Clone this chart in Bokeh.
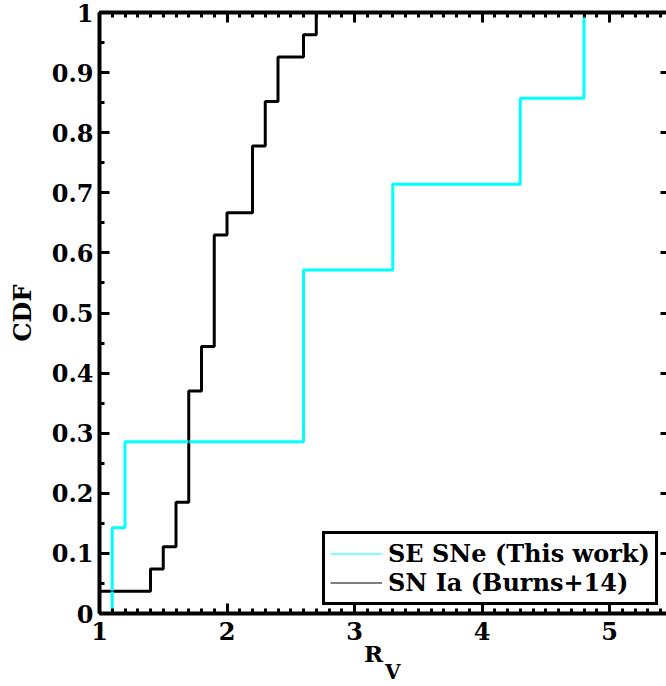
import numpy as np
from bokeh.plotting import figure
from bokeh.models import LinearAxis, Range1d, Legend, LegendItem, FixedTicker
from bokeh.embed import file_html
from bokeh.resources import INLINE

# R_V values
se_rv = [1.1, 1.2, 2.6, 2.6, 3.3, 4.3, 4.8]
ia_rv = [1.0, 1.4, 1.5, 1.6, 1.6, 1.7, 1.7, 1.7, 1.7, 1.7, 1.8, 1.8,
         1.9, 1.9, 1.9, 1.9, 1.9, 2.0, 2.2, 2.2, 2.2, 2.3, 2.3, 2.4, 2.4,
         2.6, 2.7]
series_labels = ["SE SNe (This work)", "SN Ia (Burns+14)"]
x_ticks = [1, 2, 3, 4, 5]
x_tick_labels = ["1", "2", "3", "4", "5"]
y_ticks = [0, 0.1, 0.2, 0.3, 0.4, 0.5, 0.6, 0.7, 0.8, 0.9, 1.0]
y_tick_labels = ["0", "0.1", "0.2", "0.3", "0.4", "0.5", "0.6", "0.7", "0.8", "0.9", "1"]

FONT = "DejaVu Serif"


def cdf_steps(vals, xend):
    u, c = np.unique(np.asarray(vals, dtype=float), return_counts=True)
    cum = np.cumsum(c) / len(vals)
    xs = np.concatenate([[u[0]], u, [xend]])
    ys = np.concatenate([[0.0], cum, [1.0]])
    return xs, ys


p = figure(width=666, height=686, x_range=Range1d(1, 5.447), y_range=Range1d(0, 1),
           output_backend="svg", toolbar_location=None,
           x_axis_location=None, y_axis_location=None,
           min_border_left=99, min_border_right=0, min_border_top=12, min_border_bottom=73)
p.grid.visible = False
p.outline_line_color = None
p.background_fill_color = "white"

xt = FixedTicker(ticks=x_ticks, minor_ticks=list(np.round(np.arange(1.0, 5.55, 0.1), 2)))
yt = FixedTicker(ticks=y_ticks, minor_ticks=list(np.round(np.arange(0.0, 1.001, 0.05), 3)))

bottom = LinearAxis(ticker=xt)
left = LinearAxis(ticker=yt)
top = LinearAxis(ticker=xt)
right = LinearAxis(ticker=yt)

for ax in [bottom, left, top, right]:
    ax.axis_line_width = 4
    ax.axis_line_color = "black"
    ax.major_tick_line_width = 3
    ax.minor_tick_line_width = 3
    ax.major_tick_in = 10
    ax.major_tick_out = 0
    ax.minor_tick_in = 5
    ax.minor_tick_out = 0
    ax.major_label_text_font = FONT
    ax.major_label_text_font_style = "bold"
    ax.major_label_text_font_size = "24px"
    ax.major_label_text_color = "black"

bottom.major_label_standoff = 8
bottom.major_label_overrides = {t: s for t, s in zip(x_ticks, x_tick_labels)}
left.major_label_standoff = 6
left.major_label_overrides = {t: s for t, s in zip(y_ticks, y_tick_labels)}
left.axis_label = "CDF"
left.axis_label_text_font = FONT
left.axis_label_text_font_style = "bold"
left.axis_label_text_font_size = "24px"
left.axis_label_text_color = "black"
left.axis_label_standoff = 12

top.major_label_overrides = {t: "" for t in x_ticks}
right.major_label_overrides = {t: "" for t in y_ticks}
for ax in [top, right]:
    ax.major_label_text_font_size = "0px"
    ax.major_label_standoff = 0
right.axis_line_color = None
right.major_tick_in = 6
right.minor_tick_in = 0

# x-axis title "R" with subscript "V", drawn as labels of tickless axes
r_axis = LinearAxis(ticker=FixedTicker(ticks=[3.15], minor_ticks=[]),
                    major_label_overrides={3.15: "R"})
v_axis = LinearAxis(ticker=FixedTicker(ticks=[3.30], minor_ticks=[]),
                    major_label_overrides={3.30: "V"})
for ax, fs, so in [(r_axis, "23px", -3), (v_axis, "20px", -10)]:
    ax.axis_line_color = None
    ax.major_tick_line_color = None
    ax.minor_tick_line_color = None
    ax.major_tick_in = 0
    ax.major_tick_out = 0
    ax.minor_tick_in = 0
    ax.minor_tick_out = 0
    ax.major_label_text_font = FONT
    ax.major_label_text_font_style = "bold"
    ax.major_label_text_font_size = fs
    ax.major_label_text_color = "black"
    ax.major_label_standoff = so

p.add_layout(bottom, "below")
p.add_layout(r_axis, "below")
p.add_layout(v_axis, "below")
p.add_layout(left, "left")
p.add_layout(top, "above")
p.add_layout(right, "right")

xs_ia, ys_ia = cdf_steps(ia_rv, 6.0)
xs_se, ys_se = cdf_steps(se_rv, 6.0)
p.step(xs_ia, ys_ia, mode="after", line_color="black", line_width=3)
p.step(xs_se, ys_se, mode="after", line_color="#00FFFF", line_width=3)

# thin copies for the legend samples (hidden under the thick lines)
r1 = p.step(xs_se, ys_se, mode="after", line_color="#00FFFF", line_width=1)
r2 = p.step(xs_ia, ys_ia, mode="after", line_color="black", line_width=1)
legend = Legend(items=[LegendItem(label=series_labels[0], renderers=[r1]),
                       LegendItem(label=series_labels[1], renderers=[r2])],
                location=(223, 8), border_line_color="black", border_line_width=3,
                border_line_alpha=1.0,
                label_text_font=FONT, label_text_font_style="bold",
                label_text_font_size="24px", label_text_color="black",
                glyph_width=52, glyph_height=25, label_height=25, spacing=0,
                padding=5, label_standoff=6, margin=0,
                background_fill_color="white", background_fill_alpha=1)
p.add_layout(legend)

open("out.html", "w").write(file_html(p, INLINE))
